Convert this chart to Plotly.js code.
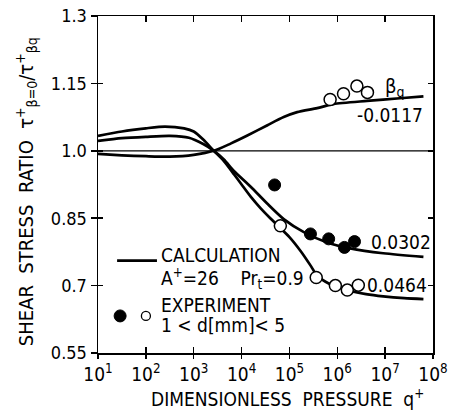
<!DOCTYPE html>
<html>
<head>
<meta charset="utf-8">
<script src="https://cdn.plot.ly/plotly-3.0.1.min.js"></script>
<style>
html,body{margin:0;padding:0;background:#fff;}
#chart{width:449px;height:414px;}
</style>
</head>
<body>
<div id="chart"></div>
<script>
// ---- data ----
// calculated curves: q+ values and shear stress ratio
const qCalcNeg = [10, 31.6, 100, 316, 1000, 2630, 5890, 13200, 34700, 75900, 145000, 380000, 832000, 4170000, 20400000, 63100000];
const ratioNeg0117 = [0.993, 0.990, 0.988, 0.987, 0.991, 1.000, 1.016, 1.034, 1.057, 1.075, 1.086, 1.095, 1.104, 1.111, 1.117, 1.121];

const qCalc0302 = [10, 31.6, 100, 316, 794, 1580, 2630, 4270, 6920, 15500, 34700, 75900, 200000, 617000, 1860000, 9120000, 63100000];
const ratio0302 = [1.022, 1.028, 1.031, 1.033, 1.029, 1.015, 1.000, 0.981, 0.955, 0.920, 0.882, 0.848, 0.819, 0.796, 0.783, 0.772, 0.764];

const qCalc0464 = [10, 31.6, 100, 251, 631, 1000, 1580, 2630, 4270, 6920, 10000, 15500, 25100, 39800, 64600, 100000, 174000, 275000, 347000, 501000, 708000, 1000000, 1860000, 3980000, 9120000, 25100000, 63100000];
const ratio0464 = [1.033, 1.043, 1.050, 1.054, 1.050, 1.043, 1.025, 1.000, 0.977, 0.948, 0.925, 0.898, 0.872, 0.850, 0.828, 0.808, 0.776, 0.745, 0.728, 0.712, 0.703, 0.697, 0.688, 0.681, 0.676, 0.672, 0.670];

// experiments (1 < d[mm] < 5)
const qExpFilled = [49000, 275000, 661000, 1410000, 2290000];
const ratioExpFilled = [0.924, 0.815, 0.804, 0.785, 0.798];
const qExpOpenLow = [64600, 363000, 912000, 1620000, 2750000];
const ratioExpOpenLow = [0.833, 0.718, 0.700, 0.690, 0.701];
const qExpOpenHigh = [708000, 1350000, 2570000, 4270000];
const ratioExpOpenHigh = [1.114, 1.127, 1.144, 1.130];

// axis ticks
const xTickVals = [1e1, 1e2, 1e3, 1e4, 1e5, 1e6, 1e7, 1e8];
const xTickText = ['10<sup>1</sup>','10<sup>2</sup>','10<sup>3</sup>','10<sup>4</sup>','10<sup>5</sup>','10<sup>6</sup>','10<sup>7</sup>','10<sup>8</sup>'];
const yTickVals = [0.55, 0.7, 0.85, 1.0, 1.15, 1.3];
const yTickText = ['0.55', '0.7', '0.85', '1.0', '1.15', '1.3'];

// curve labels
const curveLabels = ['-0.0117', '0.0302', '0.0464'];

// ---- chart ----
const FONT = '"Liberation Sans Narrow", "DejaVu Sans Condensed", "Arial Narrow", sans-serif';
const lineStyle = {color: '#000', width: 2.7, shape: 'spline', smoothing: 0.7};

const traces = [
  {x: qCalcNeg, y: ratioNeg0117, mode: 'lines', line: lineStyle, hoverinfo: 'skip'},
  {x: qCalc0302, y: ratio0302, mode: 'lines', line: lineStyle, hoverinfo: 'skip'},
  {x: qCalc0464, y: ratio0464, mode: 'lines', line: lineStyle, hoverinfo: 'skip'},
  {x: qExpFilled, y: ratioExpFilled, mode: 'markers',
   marker: {symbol: 'circle', size: 12, color: '#000', line: {color: '#000', width: 1}}},
  {x: qExpOpenLow, y: ratioExpOpenLow, mode: 'markers',
   marker: {symbol: 'circle', size: 12, color: '#fff', line: {color: '#000', width: 1.5}}},
  {x: qExpOpenHigh, y: ratioExpOpenHigh, mode: 'markers',
   marker: {symbol: 'circle', size: 12, color: '#fff', line: {color: '#000', width: 1.5}}},
  // helper trace for the overlaid tick axes
  {x: [qCalcNeg[0]], y: [ratioNeg0117[0]], xaxis: 'x2', yaxis: 'y2', mode: 'markers',
   marker: {opacity: 0}, hoverinfo: 'skip'}
];

const axisCommon = {showgrid: false, zeroline: false, linecolor: '#000', tickcolor: '#000'};

const layout = {
  width: 449, height: 414,
  margin: {l: 98, r: 16, t: 16, b: 61},
  paper_bgcolor: '#fff', plot_bgcolor: '#fff',
  showlegend: false,
  font: {family: FONT, color: '#000', size: 18},
  xaxis: Object.assign({}, axisCommon, {
    type: 'log', range: [1, 8], tickvals: xTickVals, ticktext: xTickText,
    ticks: 'outside', ticklen: 4, tickwidth: 1.5, showline: true, linewidth: 1.5, mirror: true,
    tickfont: {family: FONT, size: 19}
  }),
  xaxis2: Object.assign({}, axisCommon, {
    type: 'log', range: [1, 8], tickvals: xTickVals, overlaying: 'x', anchor: 'y', side: 'bottom',
    ticks: 'inside', ticklen: 6, tickwidth: 1.5, showticklabels: false, showline: false, mirror: 'ticks'
  }),
  yaxis: Object.assign({}, axisCommon, {
    range: [0.55, 1.3], tickvals: yTickVals, ticktext: yTickText,
    ticks: 'outside', ticklen: 6, tickwidth: 1.5, showline: true, linewidth: 1.5, mirror: true,
    tickfont: {family: FONT, size: 18}
  }),
  yaxis2: Object.assign({}, axisCommon, {
    range: [0.55, 1.3], tickvals: yTickVals, overlaying: 'y', anchor: 'x', side: 'left',
    ticks: 'inside', ticklen: 5, tickwidth: 1.5, showticklabels: false, showline: false, mirror: 'ticks'
  }),
  shapes: [
    {type: 'line', xref: 'paper', x0: 0, x1: 1, yref: 'y', y0: 1.0, y1: 1.0, line: {color: '#000', width: 1.3}},
    // legend sample line
    {type: 'line', xref: 'paper', yref: 'paper', x0: 0.057, x1: 0.176, y0: 0.274, y1: 0.274, line: {color: '#000', width: 2.7}},
    // legend markers
    {type: 'circle', xref: 'paper', yref: 'paper', xsizemode: 'pixel', ysizemode: 'pixel',
     xanchor: 0.066, yanchor: 0.110, x0: -6, x1: 6, y0: -6, y1: 6, fillcolor: '#000', line: {color: '#000', width: 1}},
    {type: 'circle', xref: 'paper', yref: 'paper', xsizemode: 'pixel', ysizemode: 'pixel',
     xanchor: 0.143, yanchor: 0.110, x0: -4.5, x1: 4.5, y0: -4.5, y1: 4.5, fillcolor: '#fff', line: {color: '#000', width: 1.3}}
  ],
  annotations: [
    {xref: 'paper', yref: 'paper', x: -0.215, y: 0.48, textangle: -90, showarrow: false,
     xanchor: 'center', yanchor: 'middle',
     text: 'SHEAR  STRESS  RATIO  τ<sup>+</sup><sub>β=0</sub>/τ<sup>+</sup><sub>βq</sub>', font: {size: 20}},
    {xref: 'paper', yref: 'paper', x: 0.566, y: -0.135, showarrow: false, xanchor: 'center', yanchor: 'middle',
     text: 'DIMENSIONLESS  PRESSURE  q<sup>+</sup>', font: {size: 19}},
    {xref: 'paper', yref: 'paper', x: 0.182, y: 0.292, showarrow: false, xanchor: 'left', yanchor: 'middle',
     text: 'CALCULATION', font: {size: 19}},
    {xref: 'paper', yref: 'paper', x: 0.182, y: 0.220, showarrow: false, xanchor: 'left', yanchor: 'middle',
     text: 'A<sup>+</sup>=26    Pr<sub>t</sub>=0.9', font: {size: 19}},
    {xref: 'paper', yref: 'paper', x: 0.182, y: 0.142, showarrow: false, xanchor: 'left', yanchor: 'middle',
     text: 'EXPERIMENT', font: {size: 19}},
    {xref: 'paper', yref: 'paper', x: 0.182, y: 0.083, showarrow: false, xanchor: 'left', yanchor: 'middle',
     text: '1 < d[mm]< 5', font: {size: 19}},
    {xref: 'x', yref: 'y', x: 7.2, y: 1.143, showarrow: false, xanchor: 'center', yanchor: 'middle',
     text: 'β<sub>q</sub>', font: {size: 20}},
    {xref: 'x', yref: 'y', x: 7.1, y: 1.079, showarrow: false, xanchor: 'center', yanchor: 'middle',
     text: curveLabels[0], font: {size: 19}},
    {xref: 'x', yref: 'y', x: 7.33, y: 0.797, showarrow: false, xanchor: 'center', yanchor: 'middle',
     text: curveLabels[1], font: {size: 19}},
    {xref: 'x', yref: 'y', x: 7.25, y: 0.701, showarrow: false, xanchor: 'center', yanchor: 'middle',
     text: curveLabels[2], font: {size: 19}}
  ]
};

Plotly.newPlot('chart', traces, layout, {staticPlot: true, displayModeBar: false});
</script>
</body>
</html>
